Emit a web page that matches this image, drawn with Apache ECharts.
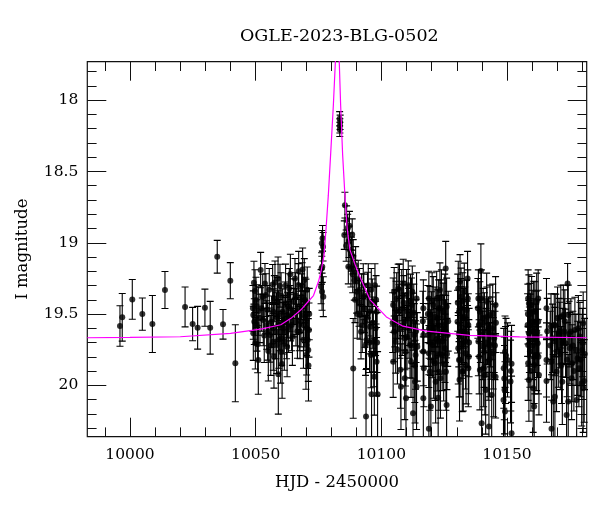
<!DOCTYPE html>
<html><head><meta charset="utf-8">
<script src="https://cdn.jsdelivr.net/npm/echarts@6/dist/echarts.min.js"></script>
<style>html,body{margin:0;padding:0;background:#fff}#c{width:600px;height:512px}</style>
</head><body><div id="c"></div>
<script>
const FONT = 'DejaVu Serif';
const titleText = 'OGLE-2023-BLG-0502';
const xName = 'HJD - 2450000';
const yName = 'I magnitude';
const xMin = 9983, xMax = 10181.7;
const yMin = 17.73, yMax = 20.36;
const xMajor = [10000, 10050, 10100, 10150];
const xMinor = [9990, 10010, 10020, 10030, 10040, 10060, 10070, 10080, 10090, 10110, 10120, 10130, 10140, 10160, 10170, 10180];
const yMajor = [18, 18.5, 19, 19.5, 20];
const yMinor = [17.8, 17.9, 18.1, 18.2, 18.3, 18.4, 18.6, 18.7, 18.8, 18.9, 19.1, 19.2, 19.3, 19.4, 19.6, 19.7, 19.8, 19.9, 20.1, 20.2, 20.3];

// [HJD-2450000, I mag, error]
const earlyPts = [[9996.0,19.584,0.142],[9996.9,19.523,0.167],[10000.9,19.397,0.139],[10004.9,19.50,0.113],[10008.9,19.57,0.20],[10013.9,19.331,0.13],[10021.9,19.45,0.14],[10024.9,19.57,0.117],[10026.9,19.596,0.15],[10029.8,19.455,0.13],[10031.9,19.596,0.185],[10034.7,19.098,0.115],[10037.0,19.572,0.104],[10039.9,19.266,0.127],[10041.9,19.845,0.27]];
const risePts = [[10051.97,19.191,0.124],[10049.05,19.507,0.17],[10049.72,19.339,0.15],[10050.11,19.402,0.16],[10050.38,19.444,0.15],[10051.04,19.479,0.17],[10049.45,19.553,0.16],[10049.05,19.635,0.19],[10049.85,19.705,0.18],[10050.78,19.712,0.2],[10051.04,19.822,0.24],[10051.71,19.530,0.17],[10052.37,19.460,0.16],[10053.03,19.542,0.18],[10053.69,19.285,0.14],[10054.09,19.367,0.15],[10054.36,19.577,0.17],[10054.76,19.623,0.2],[10055.02,19.759,0.21],[10055.68,19.647,0.19],[10056.35,19.553,0.18],[10056.74,19.292,0.14],[10057.01,19.483,0.16],[10057.01,19.694,0.2],[10057.27,19.799,0.22],[10057.67,19.278,0.15],[10058.07,19.623,0.19],[10058.34,19.717,0.2],[10058.6,19.413,0.17],[10059.0,19.922,0.28],[10059.0,19.507,0.17],[10059.4,19.577,0.18],[10059.66,19.301,0.15],[10059.93,19.764,0.22],[10060.32,19.670,0.19],[10060.72,19.483,0.16],[10060.99,19.600,0.18],[10061.39,19.694,0.2],[10061.65,19.425,0.15],[10062.05,19.553,0.17],[10062.31,19.623,0.19],[10062.71,19.507,0.16],[10062.98,19.367,0.15],[10063.37,19.320,0.14],[10063.64,19.460,0.16],[10063.9,19.518,0.17],[10064.3,19.577,0.18],[10064.96,19.413,0.16],[10065.63,19.250,0.14],[10066.03,19.553,0.17],[10066.29,19.483,0.16],[10066.95,19.296,0.15],[10067.35,19.577,0.18],[10067.62,19.623,0.19],[10067.88,19.460,0.17],[10068.28,19.378,0.16],[10068.68,19.187,0.15],[10068.94,19.507,0.17],[10069.21,19.577,0.18],[10069.34,19.261,0.15],[10069.6,19.402,0.16],[10070.0,19.787,0.24],[10070.27,19.600,0.19],[10070.67,19.682,0.2],[10070.93,19.752,0.22],[10071.2,19.612,0.19],[10070.27,19.717,0.21],[10070.0,19.425,0.17],
  [10048.9,19.46,0.16],[10049.3,19.28,0.15],[10050.5,19.58,0.18],[10052.8,19.38,0.16],[10053.4,19.65,0.19],[10054.6,19.47,0.17],[10055.4,19.33,0.15],[10056.0,19.72,0.21],[10056.9,19.60,0.18],[10057.4,19.39,0.16],[10058.3,19.52,0.17],[10058.9,19.25,0.15],[10059.2,19.68,0.2],[10060.1,19.37,0.16],[10060.5,19.85,0.24],[10061.2,19.54,0.17],[10061.9,19.30,0.15],[10062.5,19.73,0.21],[10063.1,19.59,0.18],[10063.8,19.22,0.14],[10064.6,19.66,0.2],[10065.2,19.49,0.17],[10065.9,19.37,0.16],[10066.6,19.62,0.19],[10067.1,19.20,0.14],[10068.0,19.55,0.18],[10068.5,19.30,0.16],[10069.0,19.68,0.2],[10069.8,19.52,0.18],[10070.5,19.33,0.16],[10071.0,19.86,0.25],[10071.3,19.50,0.18]];
const prePeakPts = [[10076.6,18.969,0.09],[10076.3,19.004,0.09],[10076.8,19.028,0.1],[10076.5,19.168,0.11],[10076.2,19.18,0.11],[10076.0,19.308,0.12],[10076.4,19.343,0.13],[10076.9,19.378,0.14]];
const peakPts = [[10083.4,18.13,0.05],[10083.6,18.155,0.05],[10083.5,18.18,0.05],[10083.45,18.205,0.05]];
const declinePts = [[10085.5,18.736,0.09],[10085.25,18.946,0.1],[10086.18,18.841,0.1],[10086.6,18.90,0.1],[10087.1,18.993,0.11],[10087.5,19.051,0.12],[10086.85,19.168,0.12],[10087.9,19.18,0.13],[10088.4,18.942,0.11],[10088.8,19.098,0.12],[10089.23,19.262,0.14],[10089.76,19.157,0.13],[10090.16,19.343,0.15],[10090.8,19.262,0.14],[10091.1,19.425,0.16],[10091.5,19.507,0.17],[10091.9,19.624,0.19],[10092.15,19.367,0.15],[10092.8,19.297,0.15],[10093.2,19.46,0.17],[10093.5,19.553,0.18],[10094.1,19.682,0.2],[10093.9,20.219,0.33],[10094.5,19.367,0.16],[10094.8,19.297,0.15],[10095.1,19.484,0.17],[10095.5,19.589,0.19],[10095.86,19.787,0.23],[10096.1,20.063,0.3],[10096.4,19.414,0.16],[10096.8,19.694,0.21],[10097.2,19.939,0.27],[10097.45,19.297,0.15],[10097.7,19.60,0.19],[10098.1,19.834,0.24],[10098.5,20.063,0.3],[10098.1,19.484,0.18],[10088.8,19.881,0.35],
  [10086.0,19.02,0.11],[10087.3,18.88,0.1],[10088.1,19.08,0.12],[10088.6,19.22,0.13],[10089.5,19.40,0.16],[10090.4,19.50,0.17],[10091.3,19.33,0.15],[10092.4,19.58,0.19],[10093.0,19.38,0.16],[10093.7,19.72,0.21],[10094.3,19.52,0.18],[10095.3,19.70,0.21],[10096.0,19.33,0.15],[10096.6,19.56,0.18],[10097.0,19.78,0.23],[10097.9,19.40,0.17],[10098.3,19.70,0.21]];
const season2aPts = [[10105.1,19.343,0.17],[10104.7,19.437,0.19],[10105.4,19.53,0.2],[10105.1,19.624,0.21],[10105.7,19.694,0.22],[10104.7,19.834,0.25],[10106.1,19.39,0.18],[10106.7,19.32,0.17],[10107.0,19.484,0.19],[10107.4,19.60,0.21],[10107.8,20.009,0.3],[10108.1,19.367,0.18],[10108.5,19.46,0.19],[10108.7,19.285,0.17],[10109.1,19.553,0.2],[10109.4,19.67,0.22],[10109.6,19.764,0.24],[10109.8,20.091,0.32],[10110.05,19.367,0.18],[10110.45,19.484,0.19],[10110.7,19.297,0.17],[10111.0,19.60,0.21],[10111.4,19.717,0.23],[10111.8,19.834,0.25],[10112.0,19.437,0.19],[10112.3,19.343,0.18],[10112.6,20.196,0.35],[10112.7,19.553,0.2],[10113.1,19.647,0.22],[10113.4,19.974,0.29],[10113.6,19.787,0.24],[10114.0,20.009,0.3],[10114.0,19.39,0.18],[10116.7,19.46,0.2],[10116.7,20.091,0.32],[10116.7,19.646,0.22],[10116.7,19.763,0.24],
  [10104.5,19.56,0.21],[10105.9,19.47,0.2],[10106.4,19.75,0.24],[10107.2,19.33,0.18],[10107.6,19.89,0.27],[10108.3,19.58,0.21],[10108.9,19.42,0.19],[10109.3,19.95,0.29],[10110.2,19.66,0.22],[10110.9,19.52,0.2],[10111.6,19.41,0.19],[10112.1,19.72,0.23],[10112.9,19.49,0.2],[10113.3,19.86,0.26],[10113.8,19.62,0.22],[10114.3,19.73,0.24],[10116.5,19.55,0.21],[10116.9,19.88,0.27]];
const season2bPts = [[10118.9,19.39,0.19],[10119.3,19.507,0.2],[10118.7,19.647,0.22],[10118.9,19.775,0.24],[10119.3,19.904,0.27],[10119.7,20.149,0.33],[10118.9,20.305,0.38],[10120.0,19.553,0.21],[10120.3,19.717,0.23],[10120.65,19.437,0.2],[10121.05,19.60,0.21],[10121.3,19.845,0.26],[10121.6,19.974,0.29],[10122.0,19.39,0.19],[10122.4,19.53,0.2],[10122.6,19.693,0.23],[10122.6,20.086,0.32],[10122.9,19.904,0.27],[10123.3,19.331,0.19],[10123.7,19.46,0.2],[10124.0,19.623,0.22],[10124.2,19.787,0.25],[10124.6,19.483,0.2],[10125.0,19.577,0.21],[10125.3,19.74,0.24],[10125.6,19.18,0.19],[10125.7,19.904,0.27],[10125.96,20.137,0.33],[10125.96,19.448,0.2],[10126.4,19.647,0.22],
  [10118.5,19.50,0.2],[10119.0,19.60,0.21],[10119.6,19.70,0.23],[10120.2,19.41,0.2],[10120.8,19.83,0.26],[10121.4,19.52,0.21],[10121.8,19.68,0.22],[10122.2,19.79,0.25],[10122.8,19.46,0.2],[10123.1,19.58,0.21],[10123.5,19.95,0.28],[10123.9,19.38,0.19],[10124.4,19.69,0.23],[10124.8,19.85,0.26],[10125.2,19.42,0.2],[10125.5,19.62,0.22],[10126.1,19.78,0.25],[10126.6,19.55,0.21]];
const season2cPts = [[10130.6,19.32,0.19],[10130.9,19.483,0.21],[10130.3,19.553,0.22],[10130.6,19.74,0.25],[10130.9,19.822,0.26],[10131.3,19.273,0.19],[10131.7,19.378,0.2],[10131.9,19.623,0.23],[10132.2,19.904,0.28],[10132.6,19.53,0.21],[10133.0,19.343,0.2],[10133.3,19.693,0.24],[10133.5,19.775,0.25],[10133.9,19.472,0.21],[10134.3,19.25,0.19],[10134.6,19.577,0.22],[10134.6,19.88,0.27],[10134.8,19.799,0.26],[10131.7,19.518,0.21],[10131.3,19.82,0.26],[10132.6,19.9,0.28],
  [10130.4,19.42,0.2],[10130.8,19.64,0.23],[10131.1,19.96,0.29],[10131.5,19.46,0.21],[10132.0,19.71,0.24],[10132.4,19.41,0.2],[10132.8,19.62,0.22],[10133.2,19.52,0.21],[10133.7,19.86,0.27],[10134.1,19.64,0.23],[10134.4,19.39,0.2],[10134.9,19.70,0.24]];
const season2dPts = [[10139.6,19.198,0.19],[10138.6,19.39,0.2],[10139.2,19.483,0.21],[10138.8,19.577,0.22],[10138.6,19.693,0.24],[10139.2,19.892,0.28],[10139.9,20.266,0.38],[10140.1,19.647,0.23],[10140.5,19.53,0.21],[10140.9,19.764,0.25],[10141.2,19.927,0.28],[10141.5,20.032,0.31],[10141.9,19.413,0.2],[10142.3,19.623,0.23],[10142.5,19.834,0.27],[10142.8,20.289,0.38],[10143.2,19.507,0.21],[10143.6,19.717,0.24],[10143.9,20.067,0.32],[10144.1,19.6,0.22],[10144.5,19.775,0.25],[10144.9,19.67,0.24],[10145.45,19.437,0.2],[10145.45,19.939,0.29],
  [10138.4,19.46,0.21],[10138.9,19.80,0.26],[10139.4,19.62,0.22],[10139.8,19.39,0.2],[10140.3,19.72,0.24],[10140.7,19.88,0.27],[10141.0,19.56,0.21],[10141.6,19.70,0.24],[10142.0,19.52,0.21],[10142.6,19.60,0.22],[10143.0,19.82,0.26],[10143.4,19.64,0.23],[10144.3,19.50,0.21],[10144.7,19.93,0.29],[10145.2,19.72,0.24],[10145.6,19.56,0.21]];
const season2ePts = [[10149.2,19.764,0.25],[10149.4,19.857,0.27],[10148.9,19.951,0.29],[10148.6,20.102,0.33],[10149.2,20.184,0.35],[10150.2,19.822,0.26],[10151.8,19.849,0.27],[10151.4,19.973,0.29],[10151.8,20.335,0.4],
  [10148.7,19.88,0.28],[10149.0,20.03,0.31],[10149.6,19.79,0.26],[10151.5,19.90,0.28]];
const season2fPts = [[10158.4,19.39,0.2],[10158.7,19.425,0.2],[10159.1,19.495,0.21],[10158.2,19.577,0.22],[10158.7,19.635,0.23],[10158.4,19.717,0.24],[10159.1,19.763,0.25],[10158.4,19.845,0.26],[10158.7,19.962,0.29],[10159.8,19.436,0.2],[10160.0,19.553,0.22],[10160.4,19.623,0.23],[10160.8,19.857,0.27],[10160.4,20.02,0.31],[10160.8,20.149,0.34],[10161.1,19.483,0.21],[10161.4,19.67,0.24],[10161.8,19.413,0.2],[10161.8,19.787,0.25],[10162.2,19.705,0.24],[10162.4,19.553,0.22],[10162.7,19.927,0.28],[10162.4,19.39,0.2],
  [10158.3,19.50,0.21],[10158.9,19.68,0.23],[10159.3,19.58,0.22],[10159.5,19.90,0.28],[10160.2,19.72,0.24],[10160.6,19.48,0.21],[10161.0,19.80,0.26],[10161.6,19.56,0.22],[10162.0,19.63,0.23],[10162.5,19.80,0.26]];
const season2gPts = [[10165.7,19.46,0.21],[10165.7,19.822,0.26],[10165.7,19.969,0.29],[10167.7,20.305,0.38],[10167.5,19.588,0.23],[10167.7,19.834,0.27],[10168.4,20.114,0.33],[10168.8,19.577,0.22],[10169.05,19.693,0.24],[10169.05,20.079,0.32],[10169.7,19.904,0.28],[10170.1,19.53,0.22],[10170.4,19.763,0.25],[10171.0,19.647,0.23],[10171.4,19.518,0.22],[10171.7,19.857,0.27],[10172.0,19.974,0.3],[10172.4,19.507,0.21],[10172.8,19.623,0.23],[10173.3,19.705,0.24],[10173.7,20.207,0.36],[10174.1,19.285,0.14],[10174.35,19.507,0.21],[10174.35,20.114,0.33],[10175.0,19.74,0.25],[10175.4,19.623,0.23],[10175.7,19.95,0.29],[10175.9,19.845,0.27],[10177.0,19.612,0.23],[10177.7,20.102,0.33],[10178.1,19.81,0.26],[10178.6,19.88,0.27],[10179.0,19.658,0.24],[10179.7,19.985,0.3],[10179.9,19.752,0.25],[10180.3,19.565,0.22],[10180.3,20.02,0.31],[10180.7,19.969,0.29],
  [10166.0,19.62,0.23],[10167.2,19.72,0.24],[10168.1,19.67,0.24],[10169.4,19.58,0.22],[10170.7,19.62,0.23],[10171.2,19.78,0.25],[10172.2,19.70,0.24],[10173.0,19.55,0.22],[10173.9,19.82,0.26],[10174.7,19.64,0.23],[10176.2,19.72,0.24],[10176.6,19.90,0.28],[10177.4,19.75,0.25],[10178.4,19.60,0.23],[10179.3,19.82,0.26],[10180.0,19.70,0.24],[10180.9,19.78,0.25]];

// model curve: [HJD-2450000, I mag]
const modelPts = [[9983.0,19.666],[10000.0,19.664],[10020.0,19.659],[10040.0,19.636],[10052.0,19.605],[10060.0,19.575],[10064.0,19.53],[10068.0,19.47],[10071.0,19.41],[10073.0,19.37],[10075.0,19.27],[10076.0,19.2],[10077.2,19.086],[10078.0,18.9],[10078.9,18.666],[10079.8,18.385],[10080.9,18.035],[10081.7,17.73],[10082.4,17.3],[10083.25,17.73],[10083.8,18.035],[10084.6,18.385],[10085.5,18.666],[10086.4,18.9],[10087.5,19.05],[10089.5,19.15],[10091.5,19.24],[10095.5,19.40],[10102.0,19.52],[10108.6,19.585],[10118.0,19.62],[10135.0,19.65],[10155.0,19.66],[10181.7,19.666]];

const allPts = [].concat(earlyPts, risePts, prePeakPts, peakPts, declinePts, season2aPts, season2bPts, season2cPts, season2dPts, season2ePts, season2fPts, season2gPts);

const INK = '#111';
function xAx(pos, ticks, len, labels) {
  return {
    type: 'value', min: xMin, max: xMax, position: pos, gridIndex: 0,
    axisLine: { show: false },
    splitLine: { show: false },
    axisTick: { show: true, inside: true, length: len, customValues: ticks, lineStyle: { color: INK, width: 1 } },
    axisLabel: labels ? { show: true, customValues: ticks, formatter: v => String(v), fontFamily: FONT, fontSize: 15.5, color: '#000', margin: 10 } : { show: false },
    name: labels ? xName : '', nameLocation: 'middle', nameGap: 38,
    nameTextStyle: { fontFamily: FONT, fontSize: 16.5, color: '#000' }
  };
}
function yAx(pos, ticks, len, labels) {
  return {
    type: 'value', min: yMin, max: yMax, inverse: true, position: pos, gridIndex: 0,
    axisLine: { show: false },
    splitLine: { show: false },
    axisTick: { show: true, inside: true, length: len, customValues: ticks, lineStyle: { color: INK, width: 1 } },
    axisLabel: labels ? { show: true, customValues: ticks, formatter: v => String(v), fontFamily: FONT, fontSize: 15.5, color: '#000', margin: 9 } : { show: false },
    name: labels ? yName : '', nameLocation: 'middle', nameGap: 56,
    nameTextStyle: { fontFamily: FONT, fontSize: 16.5, color: '#000' }
  };
}

function renderErr(params, api) {
  const x = api.value(0), y = api.value(1), e = api.value(2);
  const p1 = api.coord([x, y - e]), p2 = api.coord([x, y + e]);
  const w = 3.5;
  const st = { stroke: '#000', lineWidth: 1.1 };
  return { type: 'group', children: [
    { type: 'line', shape: { x1: p1[0], y1: p1[1], x2: p2[0], y2: p2[1] }, style: st },
    { type: 'line', shape: { x1: p1[0] - w, y1: p1[1], x2: p1[0] + w, y2: p1[1] }, style: st },
    { type: 'line', shape: { x1: p2[0] - w, y1: p2[1], x2: p2[0] + w, y2: p2[1] }, style: st }
  ]};
}

const chart = echarts.init(document.getElementById('c'), null, { renderer: 'canvas' });
chart.setOption({
  animation: false,
  backgroundColor: '#fff',
  title: { text: titleText, left: 235, top: 22, textStyle: { fontFamily: FONT, fontSize: 17.5, fontWeight: 'normal', color: '#000' } },
  grid: { left: 87.3, top: 61.7, right: 13.3, bottom: 75.3, show: true, borderColor: INK, borderWidth: 1.2, backgroundColor: 'transparent' },
  xAxis: [xAx('bottom', xMajor, 19, true), xAx('bottom', xMinor, 9.3, false), xAx('top', xMajor, 19, false), xAx('top', xMinor, 9.3, false)],
  yAxis: [yAx('left', yMajor, 19, true), yAx('left', yMinor, 9.3, false), yAx('right', yMajor, 19, false), yAx('right', yMinor, 9.3, false)],
  series: [
    { type: 'custom', xAxisIndex: 0, yAxisIndex: 0, renderItem: renderErr, data: allPts, encode: { x: 0, y: 1 }, clip: true, z: 2 },
    { type: 'scatter', xAxisIndex: 0, yAxisIndex: 0, data: allPts.map(p => [p[0], p[1]]), symbol: 'circle', symbolSize: 6, itemStyle: { color: '#000' }, clip: true, z: 3 },
    { type: 'line', xAxisIndex: 0, yAxisIndex: 0, data: modelPts, showSymbol: false, smooth: false, clip: true, lineStyle: { color: '#ff00ff', width: 1.2 }, z: 4 }
  ]
});
</script></body></html>
